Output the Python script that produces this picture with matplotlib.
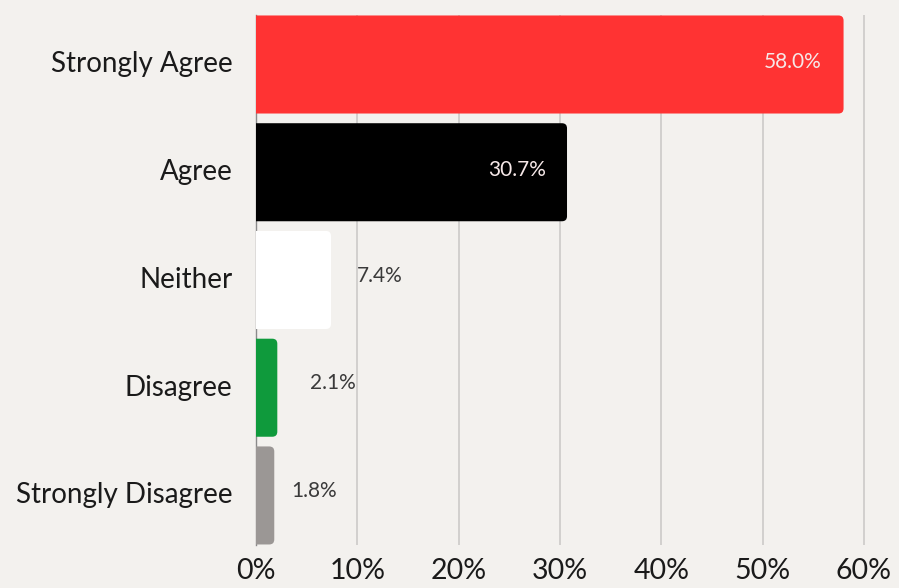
import matplotlib
matplotlib.use("Agg")
import matplotlib.pyplot as plt
from matplotlib.patches import FancyBboxPatch

# survey responses, share of respondents (%)
categories = ["Strongly Agree", "Agree", "Neither", "Disagree", "Strongly Disagree"]
shares = [58.0, 30.7, 7.4, 2.1, 1.8]
bar_colors = ["#ff3333", "#000000", "#ffffff", "#0f9a3c", "#9b9795"]
x_ticks = [0, 10, 20, 30, 40, 50, 60]
tick_labels = ["0%", "10%", "20%", "30%", "40%", "50%", "60%"]

# gap between bar end and its label (in % units); negative = inside the bar
label_gap = [-2.2, -2.1, 2.6, 3.2, 1.7]

bg = "#f3f1ee"
plt.rcParams["font.family"] = ["Lato", "DejaVu Sans"]

fig = plt.figure(figsize=(8.99, 5.88), dpi=100, facecolor=bg)
ax = fig.add_axes([0.2848, 0.0731, 0.6986, 0.9015])
ax.set_facecolor(bg)

ypos = list(range(len(categories)))
bars = ax.barh(ypos, shares, height=0.91, color=bar_colors)

ax.set_xlim(0, 62)
ax.set_ylim(len(categories) - 0.54, -0.46)

# swap the plain rectangles for ones with rounded ends
aspect = (1 / 107.5) / (1 / 10.13)
for rect in bars:
    x0, y0 = rect.get_x(), rect.get_y()
    w, h = rect.get_width(), rect.get_height()
    rb = FancyBboxPatch((x0 - 1, y0), w + 1, h,
                        boxstyle="round,pad=0,rounding_size=0.5",
                        mutation_aspect=aspect,
                        facecolor=rect.get_facecolor(), edgecolor="none",
                        zorder=3)
    rb.set_clip_path(ax.patch)
    ax.add_patch(rb)
    rect.set_visible(False)

# value labels: inside the long bars, beside the short ones
for i, v in enumerate(shares):
    g = label_gap[i]
    if g < 0:
        ax.text(v + g, i - 0.02, "{:.1f}%".format(v), ha="right", va="center",
                color="#f6e8e8", fontsize=15, zorder=4)
    else:
        ax.text(v + g, i - 0.04, "{:.1f}%".format(v), ha="left", va="center",
                color="#3a3a3a", fontsize=15, zorder=4)

ax.set_xticks(x_ticks)
ax.set_xticklabels(tick_labels, fontsize=20.5, color="#1a1a1a")
ax.set_yticks(ypos)
ax.set_yticklabels(categories, fontsize=20, color="#1a1a1a")
for lbl in ax.get_yticklabels():
    lbl.set_va("center")
ax.tick_params(axis="both", length=0)
ax.tick_params(axis="x", pad=9)
ax.tick_params(axis="y", pad=17)

ax.grid(axis="x", color="#c9c7c5", linewidth=1.1, zorder=0)
ax.set_axisbelow(True)
for s in ["top", "right", "bottom"]:
    ax.spines[s].set_visible(False)
ax.spines["left"].set_color("#8a8a8a")
ax.spines["left"].set_linewidth(1)

fig.savefig("out.png", dpi=100, facecolor=bg)
